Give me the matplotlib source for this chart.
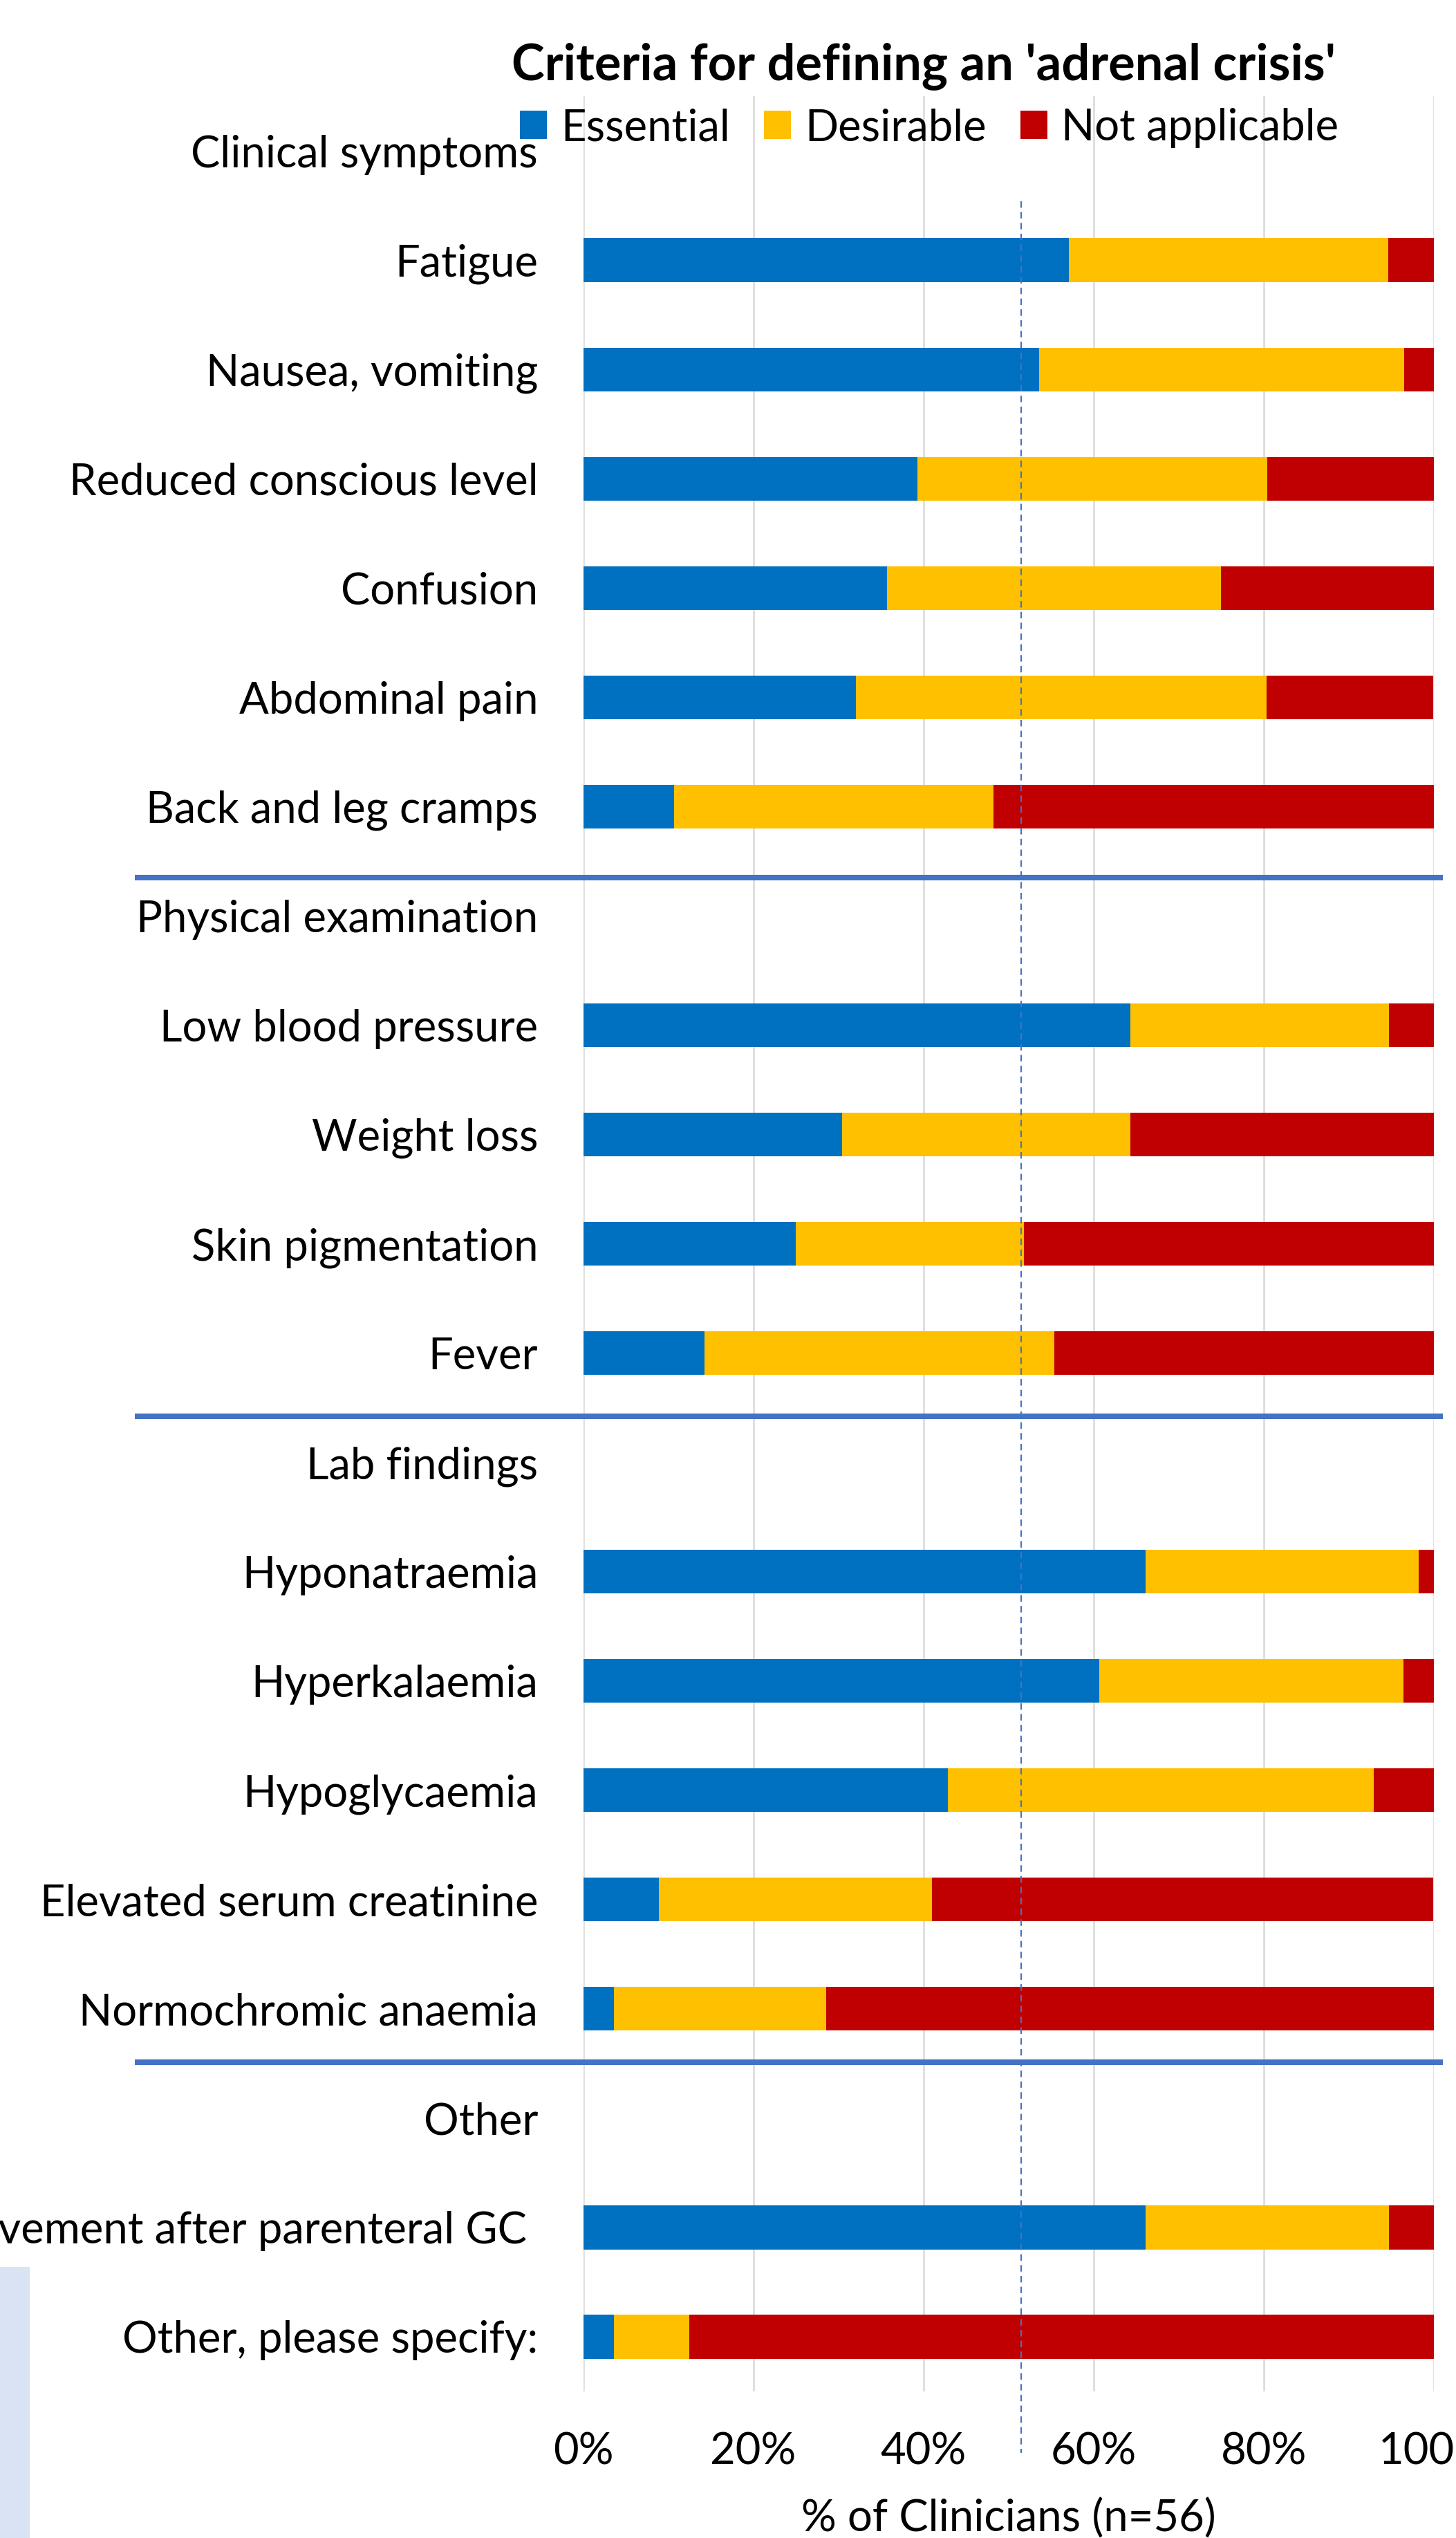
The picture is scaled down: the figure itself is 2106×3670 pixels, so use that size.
import matplotlib
matplotlib.use("Agg")
import matplotlib.pyplot as plt
import numpy as np
from matplotlib.patches import Rectangle, Patch
from matplotlib.lines import Line2D

plt.rcParams['font.family'] = ['Lato', 'DejaVu Sans']

# ---------------- data ----------------
categories = [
    "Clinical symptoms", "Fatigue", "Nausea, vomiting", "Reduced conscious level",
    "Confusion", "Abdominal pain", "Back and leg cramps",
    "Physical examination", "Low blood pressure", "Weight loss",
    "Skin pigmentation", "Fever",
    "Lab findings", "Hyponatraemia", "Hyperkalaemia", "Hypoglycaemia",
    "Elevated serum creatinine", "Normochromic anaemia",
    "Other", "Clinical improvement after parenteral GC ", "Other, please specify:",
]
nan = np.nan
essential = [nan, 57.1, 53.6, 39.3, 35.7, 32.1, 10.7,
             nan, 64.3, 30.4, 25.0, 14.3,
             nan, 66.1, 60.7, 42.9, 8.9, 3.6,
             nan, 66.1, 3.6]
desirable = [nan, 37.5, 42.9, 41.1, 39.3, 48.2, 37.5,
             nan, 30.4, 33.9, 26.8, 41.1,
             nan, 32.1, 35.7, 50.0, 32.1, 25.0,
             nan, 28.6, 8.9]
not_applicable = [nan, 5.4, 3.6, 19.6, 25.0, 19.6, 51.8,
                  nan, 5.4, 35.7, 48.2, 44.6,
                  nan, 1.8, 3.6, 7.1, 58.9, 71.4,
                  nan, 5.4, 87.5]
series_names = ["Essential", "Desirable", "Not applicable"]
series_colors = ["#0070C0", "#FFC000", "#C00000"]
x_ticks = [0, 20, 40, 60, 80, 100]
x_ticklabels = ["0%", "20%", "40%", "60%", "80%", "100%"]
reference_line = 51.5
group_separators = [6.65, 11.58, 17.49]
title = "Criteria for defining an 'adrenal crisis'"
xlabel = "% of Clinicians (n=56)"

# ---------------- figure ----------------
W, H, DPI = 2106, 3670, 200
fig = plt.figure(figsize=(W / DPI, H / DPI), dpi=DPI)

def fx(x):
    return x / W

def fy(y):
    return 1 - y / H

ax_left, ax_right, ax_top, ax_bottom = 843.5, 2074, 139, 3458
ax = fig.add_axes([fx(ax_left), fy(ax_bottom), fx(ax_right - ax_left), (ax_bottom - ax_top) / H])

FS = 22.8
ypos = np.arange(len(categories))
ess = np.array(essential)
des = np.array(desirable)
na = np.array(not_applicable)
lefts = [np.zeros(len(ess)), ess, ess + des]
vals = [ess, des, na]
for v, l, c, n in zip(vals, lefts, series_colors, series_names):
    ax.barh(ypos, v, left=l, height=0.4, color=c, label=n, zorder=3, linewidth=0)

ax.set_xlim(0, 100)
ax.set_ylim(len(categories) - 0.5, -0.5)
ax.set_xticks(x_ticks)
ax.set_xticklabels(x_ticklabels, fontsize=FS)
ax.set_yticks(ypos)
ax.set_yticklabels(categories, fontsize=FS)
ax.tick_params(axis='both', length=0)
ax.tick_params(axis='y', pad=23.5)
ax.tick_params(axis='x', pad=21)
ax.grid(axis='x', color='#D9D9D9', linewidth=0.9, zorder=0)
ax.set_axisbelow(True)
for s in ax.spines.values():
    s.set_visible(False)

# reference dashed line (extends below the plot area)
ax.plot([reference_line, reference_line], [0.46, 21.06], color='#4472C4',
        linewidth=0.75, dashes=(4.5, 3), clip_on=False, zorder=4)

# group separator lines (span beyond the axes)
for ysep in group_separators:
    yfig = ax.transData.transform((0, ysep))[1] / H
    fig.add_artist(Line2D([fx(195), fx(2087)], [yfig, yfig], color='#4472C4',
                          linewidth=2.9, solid_capstyle='butt', zorder=5))

# title
fig.text(fx(1336), fy(115), title, ha='center', va='baseline',
         fontsize=26, fontweight='bold')

# legend
handles = [Patch(facecolor=c, edgecolor='none') for c in series_colors]
fig.legend(handles, series_names, loc='center',
           bbox_to_anchor=(fx(1344), fy(185)), bbox_transform=fig.transFigure,
           ncol=3, frameon=False, fontsize=FS, handlelength=0.62, handleheight=0.62,
           handletextpad=0.31, columnspacing=0.78, borderpad=0, borderaxespad=0)

# x-axis label
fig.text(fx(1459), fy(3661), xlabel, ha='center', va='baseline', fontsize=FS)

# light blue shape at bottom-left
fig.add_artist(Rectangle((0, 0), fx(43), (H - 3278) / H, transform=fig.transFigure,
                         facecolor='#DAE3F3', edgecolor='none', zorder=0))

fig.savefig("out.png", dpi=DPI)
